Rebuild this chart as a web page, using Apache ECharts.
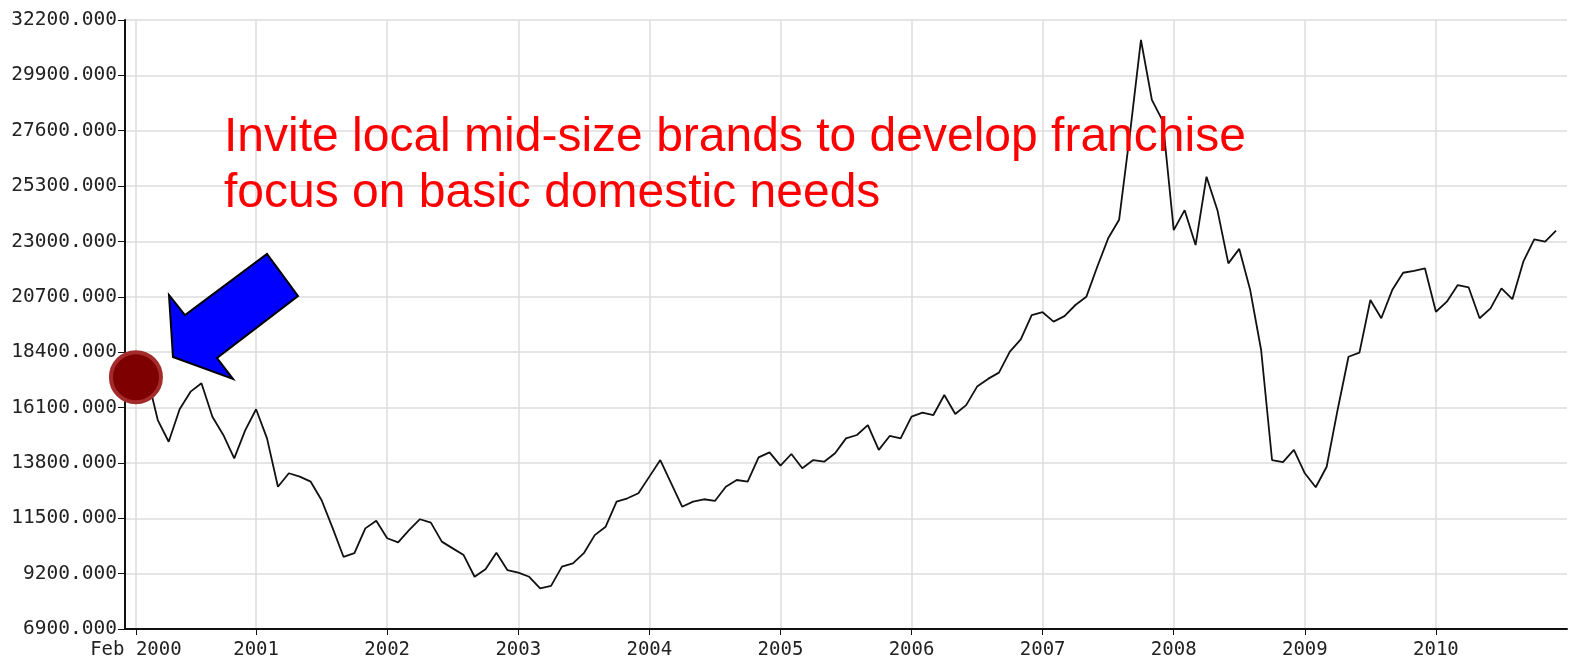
<!DOCTYPE html>
<html>
<head>
<meta charset="utf-8">
<script src="https://cdn.jsdelivr.net/npm/echarts@6/dist/echarts.min.js"></script>
<style>
html,body{margin:0;padding:0;background:#fff;}
#chart{width:1577px;height:661px;}
</style>
</head>
<body>
<div id="chart"></div>
<script>
// Monthly series, Feb 2000 .. Dec 2010 (axis spans Jan 2000 .. Jan 2011)
var startYear = 2000;
var monthNames = ['Jan','Feb','Mar','Apr','May','Jun','Jul','Aug','Sep','Oct','Nov','Dec'];
var values = [
  17360, 17450, 15580, 14680, 16030, 16760, 17110, 15720, 14960, 13990, 15150,          // Feb-Dec 2000
  16030, 14820, 12810, 13370, 13230, 13020, 12250, 11100, 9900, 10050, 11080, 11400,   // 2001
  10670, 10500, 11010, 11460, 11320, 10530, 10250, 9970, 9070, 9380, 10070, 9350,      // 2002
  9240, 9070, 8590, 8690, 9490, 9630, 10050, 10800, 11150, 12190, 12330, 12540,        // 2003
  13230, 13920, 12950, 11980, 12190, 12290, 12220, 12810, 13090, 13020, 14030, 14240,  // 2004
  13690, 14170, 13580, 13920, 13850, 14200, 14820, 14960, 15370, 14340, 14920, 14820,  // 2005
  15720, 15890, 15790, 16620, 15830, 16200, 16970, 17290, 17550, 18420, 18930, 19940,  // 2006
  20060, 19670, 19900, 20360, 20700, 21950, 23130, 23900, 27500, 31370, 28880, 28000,  // 2007
  23470, 24300, 22850, 25690, 24300, 22090, 22690, 20980, 18490, 13920, 13830, 14340,  // 2008
  13370, 12790, 13640, 16000, 18210, 18380, 20570, 19810, 20980, 21700, 21780, 21880,  // 2009
  20080, 20500, 21190, 21090, 19810, 20220, 21050, 20600, 22160, 23090, 22990, 23450   // 2010
];
var yearLabels = ['Feb 2000','2001','2002','2003','2004','2005','2006','2007','2008','2009','2010'];
var yMin = 6900, yMax = 32200, yStep = 2300;
var annotationLines = ['Invite local mid-size brands to develop franchise', 'focus on basic domestic needs'];

// categories: Jan 2000 .. Jan 2011 (133 months)
var categories = [];
for (var i = 0; i <= 132; i++) {
  categories.push(monthNames[i % 12] + ' ' + (startYear + Math.floor(i / 12)));
}
// series data aligned to categories (Jan 2000 and Jan 2011 empty)
var seriesData = [null].concat(values);
while (seriesData.length < categories.length) seriesData.push(null);

function isLabelIdx(idx) { return idx === 1 || (idx > 0 && idx < 132 && idx % 12 === 0); }
function labelFor(idx) { return idx === 1 ? yearLabels[0] : yearLabels[idx / 12]; }

var chart = echarts.init(document.getElementById('chart'), null, {renderer: 'canvas'});
var monoFont = '"DejaVu Sans Mono", "Liberation Mono", monospace';
chart.setOption({
  animation: false,
  backgroundColor: '#ffffff',
  grid: {left: 125, right: 10, top: 20, bottom: 32, containLabel: false},
  xAxis: {
    type: 'category',
    data: categories,
    boundaryGap: false,
    axisLine: {show: true, lineStyle: {color: '#111', width: 2}},
    axisTick: {show: true, interval: function (idx) { return isLabelIdx(idx); }, length: 6, lineStyle: {color: '#111', width: 1}},
    axisLabel: {
      interval: function (idx) { return isLabelIdx(idx); },
      formatter: function (v, idx) { return labelFor(idx); },
      color: '#222', fontFamily: monoFont, fontSize: 19, margin: 12
    },
    splitLine: {show: true, interval: function (idx) { return isLabelIdx(idx); }, lineStyle: {color: '#dddddd', width: 1.5}}
  },
  yAxis: {
    type: 'value',
    min: yMin, max: yMax, interval: yStep,
    axisLine: {show: true, lineStyle: {color: '#111', width: 2}},
    axisTick: {show: true, length: 7, lineStyle: {color: '#111', width: 1}},
    axisLabel: {
      formatter: function (v) { return v.toFixed(3); },
      color: '#222', fontFamily: monoFont, fontSize: 19.5, margin: 8
    },
    splitLine: {show: true, lineStyle: {color: '#dddddd', width: 1.5}}
  },
  series: [{
    type: 'line',
    data: seriesData,
    symbol: 'none',
    connectNulls: false,
    lineStyle: {color: '#111', width: 1.8},
    markPoint: {
      symbol: 'circle',
      symbolSize: 50,
      label: {show: false},
      itemStyle: {color: '#7f0000', borderColor: '#a32b2b', borderWidth: 4},
      data: [{coord: [categories[1], values[0]]}]
    }
  }],
  graphic: [
    {
      type: 'polygon', z: 100,
      shape: {points: [[173,357],[233,379],[217,358],[298,296],[267,254],[185,315],[169,295]]},
      style: {fill: '#0000ff', stroke: '#000', lineWidth: 2}
    },
    {
      type: 'text', z: 100, left: 224, top: 138 - 24,
      style: {text: annotationLines[0], fill: '#ff0000', font: '48px "Liberation Sans", Arial, sans-serif'}
    },
    {
      type: 'text', z: 100, left: 224, top: 194 - 24,
      style: {text: annotationLines[1], fill: '#ff0000', font: '48px "Liberation Sans", Arial, sans-serif'}
    }
  ]
});
</script>
</body>
</html>
